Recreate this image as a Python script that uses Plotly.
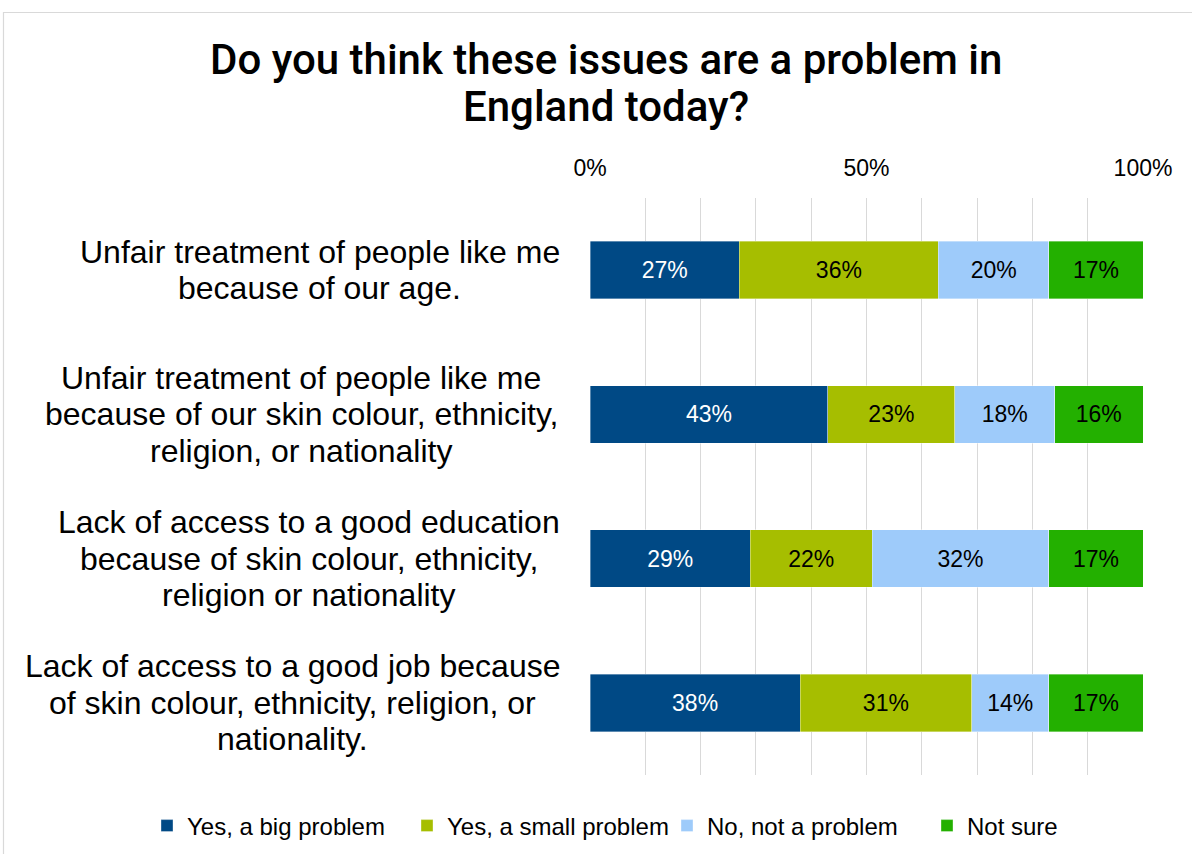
import plotly.graph_objects as go

# Survey questions (top to bottom), one list of text lines per question
questions = [
    ["Unfair treatment of people like me", "because of our age."],
    ["Unfair treatment of people like me", "because of our skin colour, ethnicity,", "religion, or nationality"],
    ["Lack of access to a good education", "because of skin colour, ethnicity,", "religion or nationality"],
    ["Lack of access to a good job because", "of skin colour, ethnicity, religion, or", "nationality."],
]
series_names = ["Yes, a big problem", "Yes, a small problem", "No, not a problem", "Not sure"]
big_problem = [27, 43, 29, 38]
small_problem = [36, 23, 22, 31]
not_a_problem = [20, 18, 32, 14]
not_sure = [17, 16, 17, 17]
tick_values = [0, 0.5, 1.0]
tick_labels = ["0%", "50%", "100%"]
title_lines = ["Do you think these issues are a problem in", "England today?"]

colors = ["#004985", "#A6BE00", "#9ECBFA", "#23B000"]
label_colors = ["white", "black", "black", "black"]

W, H = 1192, 854
ML, MR, MT, MB = 590, 49, 198, 79
PW, PH = W - ML - MR, H - MT - MB

LABEL_FONT = "Liberation Sans, Arial, sans-serif"
LABEL_SIZE = 32
LABEL_LINE = 36.5

# Arial advance widths (1/1000 em), used to centre each multi-line label block
_ADV = {" ": 278, ",": 278, ".": 278, "a": 556, "b": 556, "c": 500, "d": 556, "e": 556,
        "f": 278, "g": 556, "h": 556, "i": 222, "j": 222, "k": 500, "l": 222, "m": 833,
        "n": 556, "o": 556, "p": 556, "q": 556, "r": 333, "s": 500, "t": 278, "u": 556,
        "v": 500, "w": 722, "x": 500, "y": 500, "z": 500, "U": 722, "L": 556}


def text_width(s, size):
    return sum(_ADV.get(ch, 556) for ch in s) * size / 1000.0


fig = go.Figure()
ypos = list(range(len(questions)))
for name, vals, col, tcol in zip(series_names,
                                 [big_problem, small_problem, not_a_problem, not_sure],
                                 colors, label_colors):
    fig.add_trace(go.Bar(
        y=ypos, x=[v / 100 for v in vals], name=name, orientation="h",
        marker=dict(color=col, line=dict(width=0.6, color="rgba(255,255,255,0.6)")),
        text=[f"{v}%" for v in vals], textposition="inside", insidetextanchor="middle",
        textfont=dict(family=LABEL_FONT, size=23, color=tcol),
        hoverinfo="skip",
    ))

# Question labels: each block is centred on itself, with its right edge 30px left of the plot
for i, lines in enumerate(questions):
    block_w = max(text_width(ln, LABEL_SIZE) for ln in lines)
    cx = -30 - block_w / 2
    n = len(lines)
    for k, ln in enumerate(lines):
        fig.add_annotation(
            xref="paper", yref="y", x=0, y=i, xshift=cx,
            yshift=((n - 1) / 2 - k) * LABEL_LINE,
            xanchor="center", yanchor="middle",
            text=ln, showarrow=False,
            font=dict(family=LABEL_FONT, size=LABEL_SIZE, color="black"),
        )


def px_x(p):
    return (p - ML) / PW


def px_y(p):
    return (H - MB - p) / PH


# Title, two lines set closely together
for k, ln in enumerate(title_lines):
    fig.add_annotation(
        xref="paper", yref="paper", x=px_x(606), y=px_y(59 + 47 * k),
        xanchor="center", yanchor="middle", text=ln, showarrow=False,
        font=dict(family="Roboto, sans-serif", size=42, color="black", weight=500),
    )

# Light frame around the chart
fig.add_shape(type="rect", xref="paper", yref="paper",
              x0=px_x(3.5), x1=px_x(1210), y0=px_y(12.5), y1=px_y(870),
              line=dict(color="#d9d9d9", width=1.2), fillcolor="rgba(0,0,0,0)", layer="below")

fig.update_layout(
    width=W, height=H,
    margin=dict(l=ML, r=MR, t=MT, b=MB, autoexpand=False),
    barmode="stack", bargap=0.6,
    plot_bgcolor="white", paper_bgcolor="white",
    xaxis=dict(
        side="top", range=[0, 1], tickvals=tick_values, ticktext=tick_labels,
        showgrid=True, gridcolor="#d9d9d9", gridwidth=1.3,
        minor=dict(dtick=0.1, showgrid=True, gridcolor="#d9d9d9", gridwidth=1.3),
        zeroline=False, showline=False, ticks="", ticklabelstandoff=16,
        tickfont=dict(family=LABEL_FONT, size=23, color="black"),
        fixedrange=True,
    ),
    yaxis=dict(
        range=[3.5, -0.5], showticklabels=False, showgrid=False, zeroline=False,
        showline=False, ticks="", fixedrange=True,
    ),
    legend=dict(
        orientation="h", x=px_x(147), xanchor="left", xref="paper",
        y=px_y(826), yanchor="middle", yref="paper",
        font=dict(family=LABEL_FONT, size=24, color="black"),
        itemwidth=30, traceorder="normal", tracegroupgap=0,
        entrywidth=215, entrywidthmode="pixels",
        bgcolor="rgba(0,0,0,0)",
    ),
    showlegend=True,
)

fig.write_html("out.html")
